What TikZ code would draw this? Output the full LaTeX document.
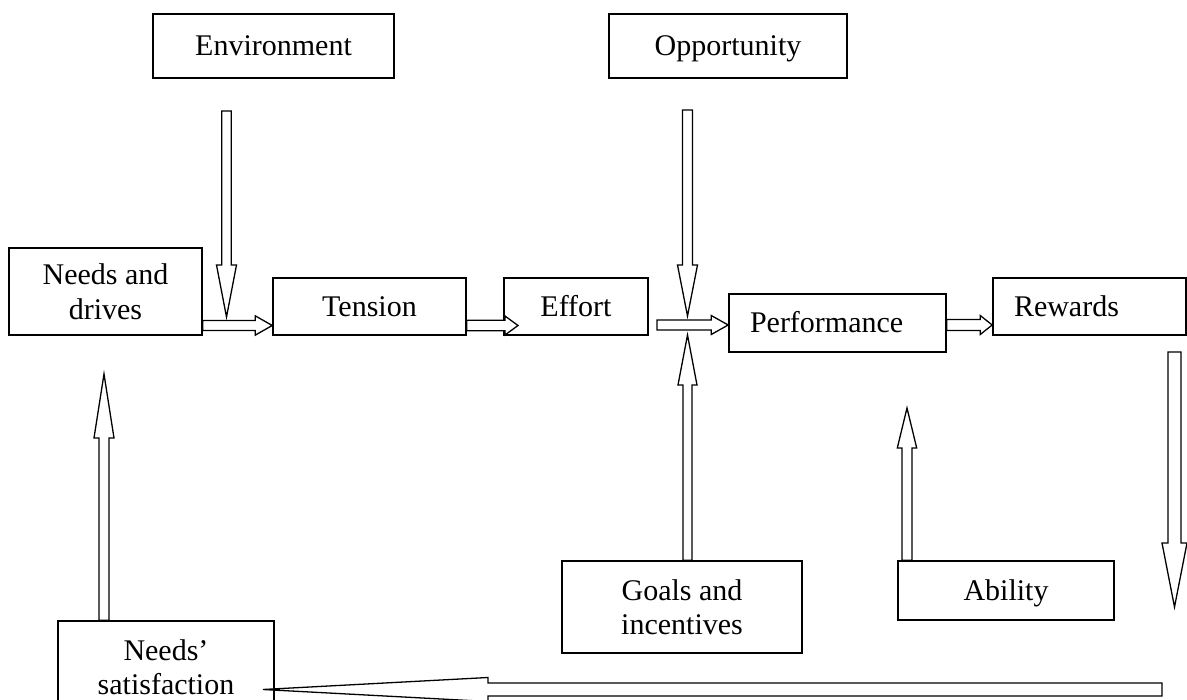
\documentclass[tikz,border=0pt]{standalone}
\usepackage{fontspec}
\setmainfont{Liberation Serif}
\usetikzlibrary{calc}
\tikzset{
  box/.style={draw, line width=1.6pt, inner sep=0pt, align=center,
              font=\fontsize{30}{34.5}\selectfont},
  oneline/.style={box, text height=20pt, text depth=0pt},
  arr/.style={draw, line width=1.3pt, fill=white, line join=miter},
}
% #1 start, #2 tip, #3 shaft half width, #4 head half width, #5 head length
\newcommand\blockarrow[5]{%
  \coordinate (hb) at ($(#2)!#5!(#1)$);
  \draw[arr] ($(#1)!#3!90:(#2)$) -- ($(hb)!#3!90:(#2)$) -- ($(hb)!#4!90:(#2)$) -- (#2)
    -- ($(hb)!#4!-90:(#2)$) -- ($(hb)!#3!-90:(#2)$) -- ($(#1)!#3!-90:(#2)$) -- cycle;}
\begin{document}
\begin{tikzpicture}[x=1pt,y=-1pt]
\useasboundingbox (0,0) rectangle (1187,700);
\clip (0,0) rectangle (1187,700);
\fill[white] (0,0) rectangle (1187,700);

% boxes
\node[oneline, minimum width=241pt, minimum height=64pt] (env) at (273.5,46) {Environment};
\node[oneline, minimum width=238pt, minimum height=64pt] (opp) at (728,46) {Opportunity};
\node[box, minimum width=193pt, minimum height=87pt] (nd) at (105.5,291.5) {Needs and\\drives};
\node[oneline, minimum width=193pt, minimum height=57pt] (ten) at (369.5,306.5) {Tension};
\node[oneline, minimum width=144pt, minimum height=57pt] (eff) at (576,306.5) {Effort};
\node[oneline, text width=175pt, inner xsep=21pt, align=left, minimum height=58pt] (perf) at (837.5,323) {Performance};
\node[oneline, text width=151pt, inner xsep=21pt, align=left, minimum height=57pt] (rew) at (1089.5,306.5) {Rewards};
\node[box, minimum width=240pt, minimum height=92pt] (goals) at (682,607) {Goals and\\incentives};
\node[oneline, minimum width=216pt, minimum height=59pt] (abil) at (1006,590.5) {Ability};
\node[box, minimum width=216pt, minimum height=92pt] (ns) at (166,667) {Needs’\\satisfaction};

% arrow end points
\coordinate (envS) at (226.5,111);   \coordinate (envT) at (226.5,317);
\coordinate (ndS) at (nd.east |- 0,325.5);  \coordinate (ndT) at (ten.west |- 0,325.5);
\coordinate (tenS) at (ten.east |- 0,325.5); \coordinate (tenT) at (518,325.5);
\coordinate (oppS) at (687.5,110);   \coordinate (oppT) at (687.5,316);
\coordinate (effS) at (657,325);     \coordinate (effT) at (perf.west |- 0,325);
\coordinate (goalsS) at (goals.north -| 687.5,0); \coordinate (goalsT) at (687.5,335);
\coordinate (perfS) at (perf.east |- 0,325); \coordinate (perfT) at (rew.west |- 0,325);
\coordinate (rewS) at (1174.5,352);  \coordinate (rewT) at (1174.5,607);
\coordinate (abilS) at (abil.north -| 907,0); \coordinate (abilT) at (907,408);
\coordinate (nsS) at (ns.north -| 104,0); \coordinate (nsT) at (104,374);
\coordinate (botS) at (1162,689.5);  \coordinate (botT) at (263,689.5);

% block arrows
\blockarrow{envS}{envT}{4.7pt}{10pt}{52pt}
\blockarrow{ndS}{ndT}{5pt}{9.7pt}{17pt}
\blockarrow{tenS}{tenT}{5.2pt}{9.5pt}{13pt}
\blockarrow{oppS}{oppT}{5pt}{10pt}{51pt}
\blockarrow{effS}{effT}{5pt}{9.5pt}{17pt}
\blockarrow{goalsS}{goalsT}{4.5pt}{9.5pt}{50pt}
\blockarrow{perfS}{perfT}{5.5pt}{9.5pt}{12pt}
\blockarrow{rewS}{rewT}{6.5pt}{12.5pt}{64pt}
\blockarrow{abilS}{abilT}{5pt}{9.7pt}{40pt}
\blockarrow{nsS}{nsT}{5pt}{10pt}{64pt}
\blockarrow{botS}{botT}{6.5pt}{12pt}{225pt}
\end{tikzpicture}
\end{document}
